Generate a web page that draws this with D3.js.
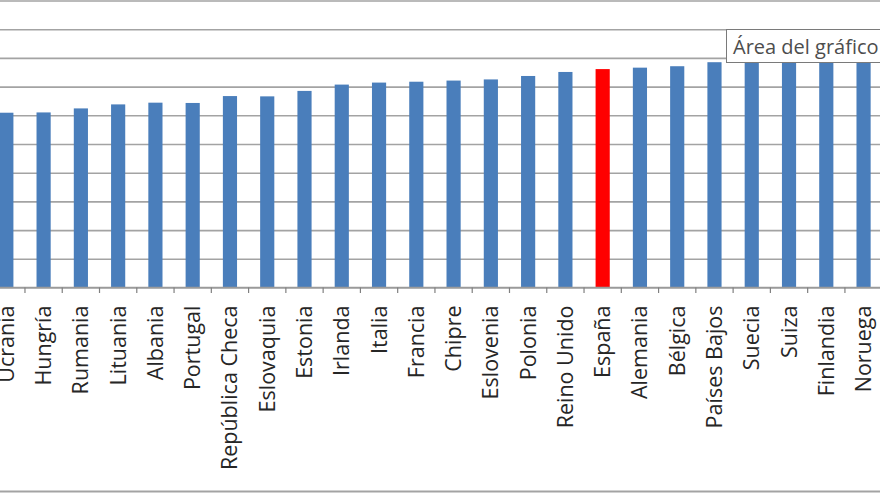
<!DOCTYPE html>
<html>
<head>
<meta charset="utf-8">
<script src="https://cdn.jsdelivr.net/npm/d3@7"></script>
<style>
  html, body { margin: 0; padding: 0; background: #ffffff; }
  svg { display: block; }
</style>
</head>
<body>
<div id="chart"></div>
<script>
const categories = ["Ucrania","Hungría","Rumania","Lituania","Albania","Portugal","República Checa","Eslovaquia","Estonia","Irlanda","Italia","Francia","Chipre","Eslovenia","Polonia","Reino Unido","España","Alemania","Bélgica","Países Bajos","Suecia","Suiza","Finlandia","Noruega"];
const values = [60.9,61.0,62.4,63.8,64.4,64.3,66.7,66.6,68.5,70.7,71.4,71.7,72.1,72.5,73.7,75.1,76.1,76.6,77.1,78.5,79.5,80.0,80.5,81.0];
const highlighted = ["España"];
const gridTicks = [0,10,20,30,40,50,60,70,80,90,100];
const tooltipText = "Área del gráfico";

const W = 880, H = 495;
const svg = d3.select("#chart").append("svg").attr("width", W).attr("height", H);

const y = d3.scaleLinear().domain([0, 100]).range([287.5, 0.5]);
const x = d3.scaleBand().domain(categories).range([-12.3, 882.2]).paddingInner(0.62).paddingOuter(0.31);
const step = x.step();

// gridlines
const grid = svg.append("g").attr("class", "grid")
  .call(d3.axisLeft(y).tickValues(gridTicks).tickSize(-W).tickFormat(""));
grid.select(".domain").remove();
grid.selectAll(".tick line").attr("stroke", "#a3a3a3").attr("stroke-width", 1.6);

// bars
svg.append("g").selectAll("rect").data(categories).join("rect")
  .attr("x", (d) => x(d))
  .attr("width", x.bandwidth())
  .attr("y", (d, i) => y(values[i]))
  .attr("height", (d, i) => y(0) - y(values[i]))
  .attr("fill", (d) => highlighted.includes(d) ? "#ff0000" : "#4a7ebb");

// category axis
svg.append("line").attr("x1", 0).attr("x2", W).attr("y1", y(0)).attr("y2", y(0))
  .attr("stroke", "#9a9a9a").attr("stroke-width", 1.6);
svg.append("g").selectAll("line").data(categories).join("line")
  .attr("x1", (d) => x(d) + x.bandwidth() / 2 + step / 2)
  .attr("x2", (d) => x(d) + x.bandwidth() / 2 + step / 2)
  .attr("y1", y(0)).attr("y2", y(0) + 5.5)
  .attr("stroke", "#808080").attr("stroke-width", 1.2);

svg.append("g").selectAll("text").data(categories).join("text")
  .attr("transform", (d) => `translate(${x(d) + x.bandwidth() / 2},305.5) rotate(-90)`)
  .attr("text-anchor", "end")
  .attr("dy", "0.35em")
  .attr("font-family", "'Open Sans', sans-serif")
  .attr("font-size", 21.5)
  .attr("fill", "#262626")
  .text((d) => d);

// bottom border of chart area
svg.append("line").attr("x1", 0).attr("x2", W).attr("y1", 491.5).attr("y2", 491.5)
  .attr("stroke", "#a3a3a3").attr("stroke-width", 2);

// tooltip
const tip = svg.append("g");
tip.append("rect").attr("x", 726.5).attr("y", 29.5).attr("width", 170).attr("height", 33)
  .attr("fill", "#ffffff").attr("stroke", "#7a7a7a").attr("stroke-width", 1);
tip.append("text").attr("x", 733).attr("y", 53.5)
  .attr("font-family", "'Open Sans', sans-serif").attr("font-size", 20)
  .attr("fill", "#4d4d4d").text(tooltipText);
</script>
</body>
</html>
